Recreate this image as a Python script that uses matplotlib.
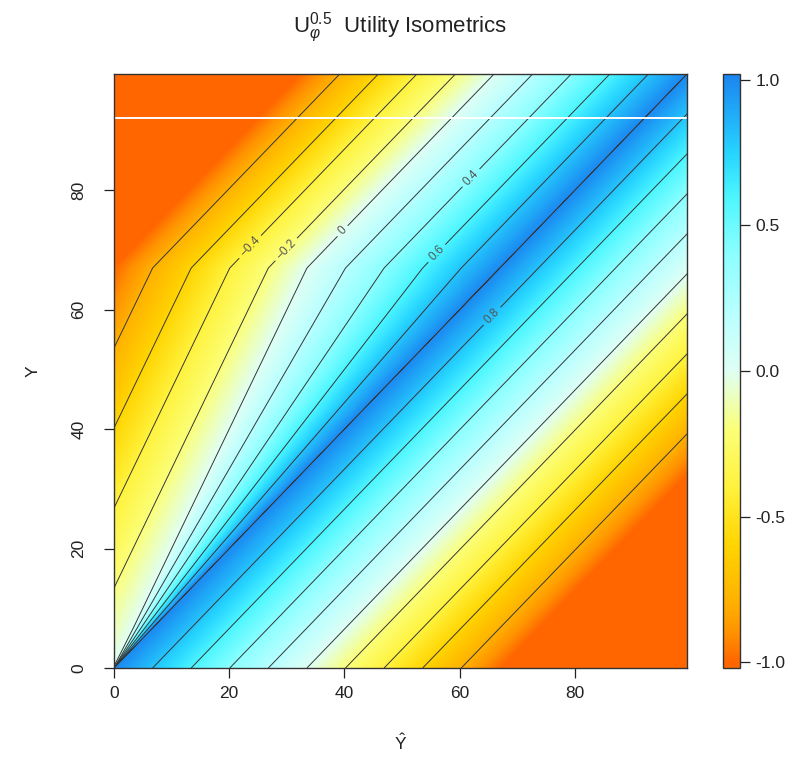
import numpy as np
import matplotlib
matplotlib.use('Agg')
import matplotlib.pyplot as plt
import matplotlib.tri as mtri
from matplotlib.colors import LinearSegmentedColormap, Normalize
from matplotlib.cm import ScalarMappable

plt.rcParams['font.family'] = ['Liberation Sans', 'DejaVu Sans']
plt.rcParams['mathtext.fontset'] = 'custom'
plt.rcParams['mathtext.rm'] = 'Liberation Sans'
plt.rcParams['mathtext.it'] = 'Liberation Sans:italic'
plt.rcParams['axes.unicode_minus'] = False

# ── values ────────────────────────────────────────────────────────
# grid nodes for Ŷ and Y, one contour spacing apart
nodes = [0.0, 6.7, 13.4, 20.1, 26.8, 33.5, 40.2, 46.9, 53.6, 60.3,
         67.0, 73.7, 80.4, 87.1, 93.8, 100.5]
# utility vs. number of node steps between Ŷ and Y (the parallel bands)
band = [1.0, 0.8, 0.6, 0.4, 0.2, 0.0, -0.2, -0.4, -0.6, -0.8, -1.0]
kink_y = 67.0  # below this (and Ŷ < Y) the isometrics fan out from 0

# fan region (Ŷ < Y < 67): rows of Y, utility on the Ŷ = 0 edge,
# and the rays (Ŷ / Y) that carry the 0 .. 1 isometrics
fan_rows = [0.3, 6.7, 13.4, 20.1, 26.8, 33.5, 40.2, 46.9, 53.6, 60.3, 67.0]
left_edge = [0.0, -0.1, -0.2, -0.3, -0.4, -0.5, -0.6, -0.7, -0.8, -0.9, -1.0]
ray_ratio = [0.5, 0.6, 0.7, 0.8, 0.9, 1.0]
ray_vals = [0.0, 0.2, 0.4, 0.6, 0.8, 1.0]

contour_levels = [-0.8, -0.6, -0.4, -0.2, 0.0, 0.2, 0.4, 0.6, 0.8]
label_pos = [(23.9, 70.3), (29.7, 70.3), (39.8, 73.1),
             (62.1, 82.0), (56.0, 69.5), (65.6, 59.0)]
white_y = 92.1
x_ticks = [0, 20, 40, 60, 80]
y_ticks = [0, 20, 40, 60, 80]
cbar_ticks = [-1.0, -0.5, 0.0, 0.5, 1.0]

# colour ramp (value -> colour)
ramp_vals = [-1.02, -1.0, -0.9, -0.8, -0.6, -0.4, -0.2, 0.0, 0.2, 0.4, 0.6, 0.75, 1.02]
ramp_cols = ['#FF6600', '#FF6600', '#FF9200', '#FFB000', '#FFD400', '#FFF23C', '#FBFF78',
             '#DFFFF4', '#B8FFFF', '#8CFFFF', '#4CF6FF', '#26D4FF', '#1A84F0']

# ── surface: regular grid outside the fan, ray mesh inside it ─────
n = len(nodes)
px, py, pz = [], [], []
for j in range(n):
    for i in range(n):
        px.append(nodes[i])
        py.append(nodes[j])
        pz.append(band[min(abs(i - j), len(band) - 1)])

tris = []
for j in range(n - 1):
    for i in range(n - 1):
        a = j * n + i
        for t in ([a, a + 1, a + n + 1], [a, a + n + 1, a + n]):
            inside_fan = any(px[k] < py[k] < kink_y for k in t)
            if not inside_fan:
                tris.append(t)

off = len(px)
m = 1 + len(ray_ratio)
for yv, lv in zip(fan_rows, left_edge):
    px.append(0.0)
    py.append(yv)
    pz.append(lv)
    for r, v in zip(ray_ratio, ray_vals):
        px.append(r * yv)
        py.append(yv)
        pz.append(v)
for r in range(len(fan_rows) - 1):
    for c in range(m - 1):
        a = off + r * m + c
        tris += [[a, a + 1, a + m + 1], [a, a + m + 1, a + m]]

tri = mtri.Triangulation(px, py, tris)
pz = np.array(pz)

lo, hi = ramp_vals[0], ramp_vals[-1]
cmap = LinearSegmentedColormap.from_list(
    'util', [((v - lo) / (hi - lo), c) for v, c in zip(ramp_vals, ramp_cols)], N=512)
norm = Normalize(lo, hi)

# ── figure ────────────────────────────────────────────────────────
W, H = 803, 758
fig = plt.figure(figsize=(W / 100, H / 100), dpi=100)
ax = fig.add_axes([114 / W, (H - 668) / H, 573 / W, 594 / H])

ax.tricontourf(tri, pz, levels=np.linspace(lo, hi, 256), cmap=cmap, norm=norm,
               antialiased=False)
eps = 1e-6
cs = ax.tricontour(tri, pz, levels=[l - eps for l in contour_levels],
                   colors='#363636', linewidths=0.7, linestyles='solid')
ax.tricontour(tri, pz, levels=[1.0 - 1e-3], colors='#363636',
              linewidths=0.5, linestyles='solid')
ax.axhline(white_y, color='white', lw=1.4)

ax.set_xlim(0, 99.5)
ax.set_ylim(0, 99.5)


def fmt(v):
    s = f"{round(v, 1) + 0.0:g}"
    return s.replace('-', '\u2212')


ax.clabel(cs, manual=label_pos, inline=True, inline_spacing=4,
          fontsize=8.5, colors='#555555', fmt=fmt)

ax.set_xticks(x_ticks)
ax.set_yticks(y_ticks)
ax.set_yticklabels([str(t) for t in y_ticks], rotation=90, va='center')
ax.tick_params(axis='both', direction='out', length=7, width=0.9,
               colors='#222222', labelsize=12.5)
ax.tick_params(axis='x', pad=6)
ax.tick_params(axis='y', pad=13)
for sp in ax.spines.values():
    sp.set_color('#333333')
    sp.set_linewidth(1.0)

fig.text(400.5 / W, 1 - 28 / H, r'$\mathrm{U}_{\varphi}^{0.5}$  Utility Isometrics',
         ha='center', va='center', fontsize=16, color='#222222')
fig.text(33 / W, 1 - 371 / H, 'Y', rotation=90, ha='center', va='center',
         fontsize=12.5, color='#222222')
fig.text(400.5 / W, 1 - 743 / H, r'$\hat{\mathrm{Y}}$', ha='center', va='center',
         fontsize=12.5, color='#222222')

# ── colour bar ────────────────────────────────────────────────────
cax = fig.add_axes([723 / W, (H - 668) / H, 17 / W, 594 / H])
cb = fig.colorbar(ScalarMappable(norm=norm, cmap=cmap), cax=cax, ticks=cbar_ticks)
cb.ax.set_yticklabels([f"{t:.1f}" for t in cbar_ticks])
cb.ax.tick_params(length=7, width=0.9, colors='#222222', labelsize=12.5, pad=4)
cb.outline.set_edgecolor('#333333')
cb.outline.set_linewidth(1.0)

fig.savefig('out.png', dpi=100)
